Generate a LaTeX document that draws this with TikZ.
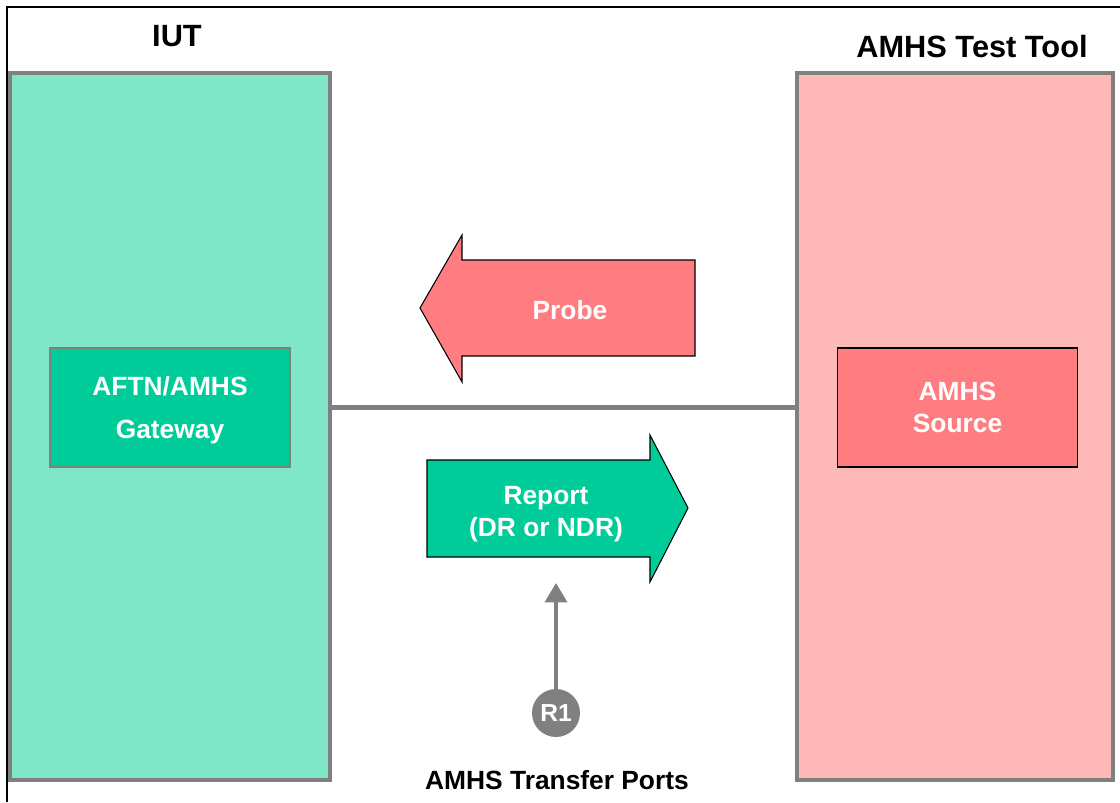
\documentclass[tikz,border=0pt]{standalone}
\usepackage{fontspec}
\setmainfont{Liberation Sans}
\usepackage{xcolor}
\usetikzlibrary{arrows.meta,positioning}
\definecolor{iutfill}{HTML}{80E6C8}
\definecolor{gwfill}{HTML}{00CC99}
\definecolor{toolfill}{HTML}{FFB8B8}
\definecolor{srcfill}{HTML}{FF7C80}
\definecolor{portgray}{HTML}{808080}

\begin{document}
\begin{tikzpicture}[x=0.02cm,y=-0.02cm,
  side/.style={draw=portgray,line width=2pt,minimum width=#1,minimum height=14.14cm},
  inner/.style={line width=0.6pt,minimum width=4.8cm,minimum height=2.38cm,align=center,
    text=white,font=\fontsize{15}{18}\selectfont\bfseries},
  title/.style={font=\fontsize{17.5}{21}\selectfont\bfseries},
  flow/.style={draw=black,line width=0.6pt}]
\useasboundingbox(0,0)rectangle(1120,802);
\draw[line width=1.1pt](7,802)--(7,7)--(1120,7);
% the two sides
\node[side=6.4cm,fill=iutfill](iut)at(170,426.5){};
\node[side=6.32cm,fill=toolfill](tool)at(955,426.5){};
\node[title](iutlbl)at(177,36){IUT};
\node[title](toollbl)at(972,47){AMHS Test Tool};
\node[inner,draw=portgray,fill=gwfill,font=\fontsize{15}{24}\selectfont\bfseries,text depth=-1.4pt](gw)at(170,407.5){AFTN/AMHS\\Gateway};
\node[inner,draw=black,fill=srcfill,text depth=-3pt](src)at(957.5,407.5){AMHS\\Source};
\draw[portgray,line width=2.4pt](gw.east-|iut.east)--(src.west-|tool.west);
% probe and report
\draw[flow,fill=srcfill](420,308)--(462,235)--(462,260)--(695,260)--(695,356)--(462,356)--(462,382)--cycle;
\node[inner,draw=none,minimum width=0pt,minimum height=0pt](probe)at(570,310){Probe};
\draw[flow,fill=gwfill](427,460)--(650,460)--(650,435)--(688,508)--(650,582)--(650,557)--(427,557)--cycle;
\node[inner,draw=none,minimum width=0pt,minimum height=0pt](report)at(546,514){Report\\(DR or NDR)};
% transfer port
\node[circle,fill=portgray,minimum size=0.96cm,inner sep=0pt,text=white,font=\fontsize{14}{16}\selectfont\bfseries](r1)at(556,713){R1};
\coordinate(rtop)at(556,583);
\draw[portgray,line width=2.2pt,-{Triangle[length=11pt,width=12.5pt]}](r1.north)--(rtop);
\node[font=\fontsize{15}{18}\selectfont\bfseries](ports)at(557,780){AMHS Transfer Ports};
\end{tikzpicture}
\end{document}
